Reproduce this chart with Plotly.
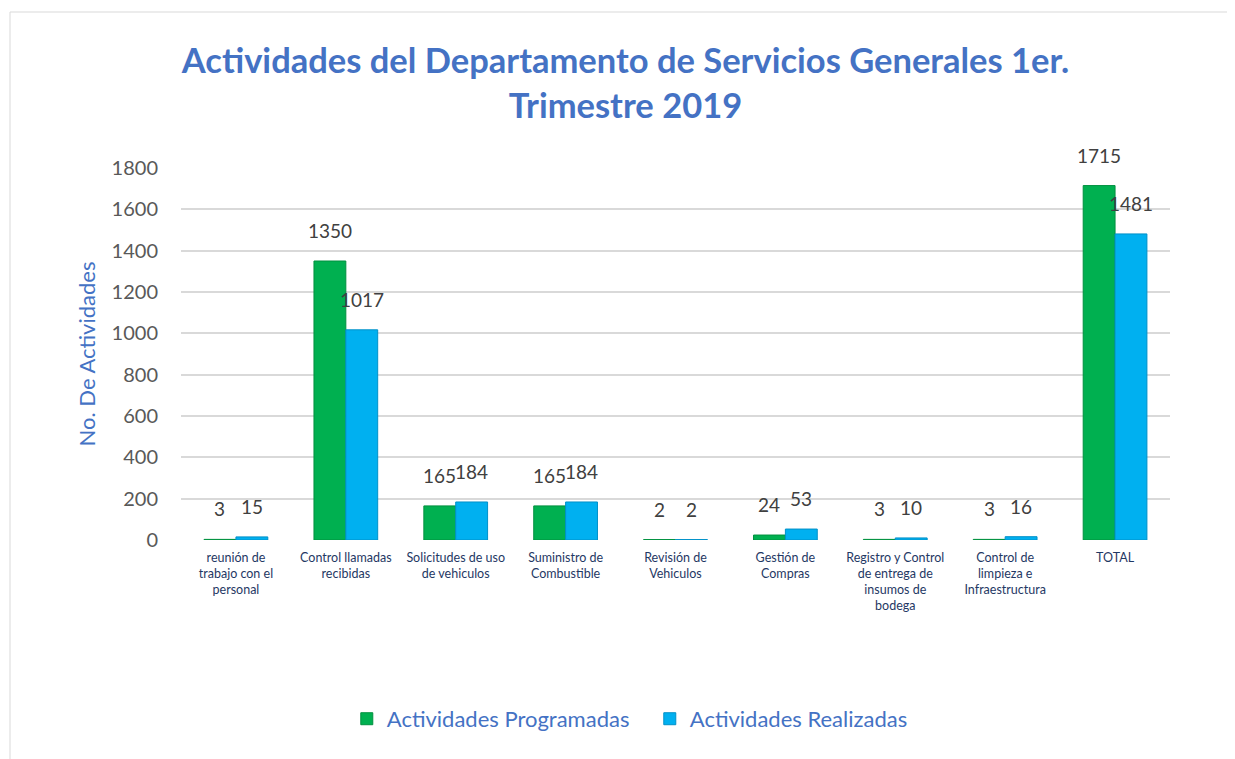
import plotly.graph_objects as go

categories = [
    "reunión de<br>trabajo con el<br>personal",
    "Control llamadas<br>recibidas",
    "Solicitudes de uso<br>de vehiculos",
    "Suministro de<br>Combustible",
    "Revisión de<br>Vehiculos",
    "Gestión de<br>Compras",
    "Registro y Control<br>de entrega de<br>insumos de<br>bodega",
    "Control de<br>limpieza e<br>Infraestructura",
    "TOTAL",
]
programadas = [3, 1350, 165, 165, 2, 24, 3, 3, 1715]
realizadas = [15, 1017, 184, 184, 2, 53, 10, 16, 1481]
y_ticks = [0, 200, 400, 600, 800, 1000, 1200, 1400, 1600, 1800]

FONT = "Lato, 'Open Sans', sans-serif"

fig = go.Figure()
fig.add_trace(go.Bar(
    name="Actividades Programadas", x=categories, y=programadas,
    marker=dict(color="#00B050", line=dict(color="#00903F", width=1)),
    cliponaxis=False,
))
fig.add_trace(go.Bar(
    name="Actividades Realizadas", x=categories, y=realizadas,
    marker=dict(color="#00B0F0", line=dict(color="#0090C8", width=1)),
    cliponaxis=False,
))

# data labels above each bar (placed at the bar's value)
annotations = []
for series, dx in ((programadas, -16), (realizadas, 16)):
    for cat, val in zip(categories, series):
        annotations.append(dict(
            x=cat, y=val, xref="x", yref="y", text=str(val), showarrow=False,
            xanchor="center", yanchor="bottom", xshift=dx, yshift=17,
            font=dict(size=19, color="#404040", family=FONT),
        ))

fig.update_layout(
    width=1235, height=759,
    paper_bgcolor="white", plot_bgcolor="white",
    font=dict(family=FONT),
    barmode="group", bargap=0.42, bargroupgap=0.0,
    margin=dict(l=173, r=73, t=160, b=227),
    title=dict(
        text="<b>Actividades del Departamento de Servicios Generales 1er.<br>Trimestre 2019</b>",
        x=0.5, xanchor="center", xref="container",
        y=1 - 65 / 759, yanchor="middle", yref="container",
        font=dict(size=34.5, color="#4472C4", family=FONT),
    ),
    xaxis=dict(
        tickfont=dict(size=12.5, color="#1F3864", family=FONT),
        tickangle=0, showline=False, showgrid=False, ticks="", ticklabelstandoff=8,
    ),
    yaxis=dict(
        range=[0, 1800], tickvals=y_ticks, ticktext=[str(v) for v in y_ticks],
        tickfont=dict(size=20, color="#595959", family=FONT),
        showgrid=True, gridcolor="#D9D9D9", gridwidth=2,
        zeroline=False, showline=False, ticks="", ticklabelstandoff=22,
        title=dict(text="No. De Actividades", font=dict(size=22, color="#4472C4", family=FONT), standoff=9),
    ),
    legend=dict(
        orientation="h", x=0.474, xanchor="center", y=-0.481, yanchor="middle",
        font=dict(size=22, color="#4472C4", family=FONT),
        itemwidth=30, traceorder="normal", entrywidth=258,
    ),
    annotations=annotations,
    shapes=[dict(
        type="rect", xref="paper", yref="paper",
        x0=(2 - 173) / 989, x1=1.2, y0=-1.0, y1=(532 - 4) / 372,
        line=dict(color="#D9D9D9", width=1), fillcolor="rgba(0,0,0,0)", layer="below",
    )],
)

fig.write_html("out.html")
